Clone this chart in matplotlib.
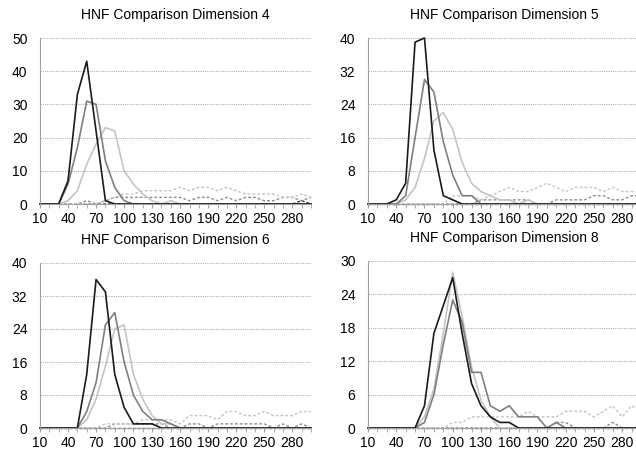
import matplotlib
matplotlib.use("Agg")
import matplotlib.pyplot as plt
import numpy as np

plt.rcParams['font.family'] = ['Liberation Sans', 'DejaVu Sans']

# categories (HNF size buckets)
cats = list(range(10, 310, 10))
tick_labels = [str(c) for c in range(10, 300, 30)]

# Dimension 4
d4_black = [0, 0, 0, 7, 33, 43, 22, 1, 0, 0, 0, 0, 0, 0, 0, 0, 0, 0, 0, 0, 0, 0, 0, 0, 0, 0, 0, 0, 0, 0]
d4_dark = [0, 0, 0, 6, 17, 31, 30, 13, 5, 1, 0, 0, 0, 0, 0, 0, 0, 0, 0, 0, 0, 0, 0, 0, 0, 0, 0, 0, 0, 0]
d4_light = [0, 0, 0, 1, 4, 12, 18, 23, 22, 10, 6, 3, 1, 0, 1, 0, 0, 0, 0, 0, 0, 0, 0, 0, 0, 0, 0, 0, 0, 0]
d4_light_dot = [0, 0, 0, 0, 0, 0, 0, 1, 2, 3, 3, 4, 4, 4, 4, 5, 4, 5, 5, 4, 5, 4, 3, 3, 3, 3, 2, 2, 3, 2]
d4_dark_dot = [0, 0, 0, 0, 0, 1, 0, 1, 2, 2, 2, 2, 2, 2, 2, 2, 1, 2, 2, 1, 2, 1, 2, 2, 1, 1, 2, 2, 1, 2]
d4_black_dot = [0, 0, 0, 0, 0, 0, 0, 0, 0, 0, 0, 0, 0, 0, 0, 0, 0, 0, 0, 0, 0, 0, 0, 0, 0, 0, 0, 0, 1, 0]

# Dimension 5
d5_black = [0, 0, 0, 1, 5, 39, 40, 13, 2, 1, 0, 0, 0, 0, 0, 0, 0, 0, 0, 0, 0, 0, 0, 0, 0, 0, 0, 0, 0, 0]
d5_dark = [0, 0, 0, 0, 2, 16, 30, 27, 15, 7, 2, 2, 0, 0, 0, 0, 0, 0, 0, 0, 0, 0, 0, 0, 0, 0, 0, 0, 0, 0]
d5_light = [0, 0, 0, 0, 1, 4, 11, 20, 22, 18, 10, 5, 3, 2, 1, 1, 0, 1, 0, 0, 0, 0, 0, 0, 0, 0, 0, 0, 0, 0]
d5_light_dot = [0, 0, 0, 0, 0, 0, 0, 0, 0, 2, 2, 2, 1, 2, 3, 4, 3, 3, 4, 5, 4, 3, 4, 4, 4, 3, 4, 3, 3, 3]
d5_dark_dot = [0, 0, 0, 0, 0, 0, 0, 0, 0, 0, 0, 0, 1, 1, 1, 1, 1, 1, 0, 0, 1, 1, 1, 1, 2, 2, 1, 1, 2, 2]
d5_black_dot = [0] * 30

# Dimension 6
d6_black = [0, 0, 0, 0, 0, 13, 36, 33, 13, 5, 1, 1, 1, 0, 0, 0, 0, 0, 0, 0, 0, 0, 0, 0, 0, 0, 0, 0, 0, 0]
d6_dark = [0, 0, 0, 0, 0, 4, 11, 25, 28, 16, 8, 4, 2, 2, 1, 0, 0, 0, 0, 0, 0, 0, 0, 0, 0, 0, 0, 0, 0, 0]
d6_light = [0, 0, 0, 0, 0, 2, 7, 15, 24, 25, 13, 7, 3, 1, 1, 0, 0, 0, 0, 0, 0, 0, 0, 0, 0, 0, 0, 0, 0, 0]
d6_light_dot = [0, 0, 0, 0, 0, 0, 0, 1, 1, 1, 1, 2, 2, 2, 2, 1, 3, 3, 3, 2, 4, 4, 3, 3, 4, 3, 3, 3, 4, 4]
d6_dark_dot = [0, 0, 0, 0, 0, 0, 0, 0, 1, 1, 1, 1, 1, 1, 0, 0, 1, 1, 0, 1, 1, 1, 1, 1, 1, 0, 1, 0, 1, 0]
d6_black_dot = [0] * 30

# Dimension 8
d8_black = [0, 0, 0, 0, 0, 0, 4, 17, 22, 27, 17, 8, 4, 2, 1, 1, 0, 0, 0, 0, 0, 0, 0, 0, 0, 0, 0, 0, 0, 0]
d8_dark = [0, 0, 0, 0, 0, 0, 1, 6, 15, 23, 19, 10, 10, 4, 3, 4, 2, 2, 2, 0, 1, 0, 0, 0, 0, 0, 0, 0, 0, 0]
d8_light = [0, 0, 0, 0, 0, 0, 2, 7, 17, 28, 20, 11, 5, 2, 0, 0, 0, 0, 0, 0, 0, 0, 0, 0, 0, 0, 0, 0, 0, 0]
d8_light_dot = [0, 0, 0, 0, 0, 0, 0, 0, 0, 1, 1, 2, 2, 2, 2, 2, 2, 3, 2, 2, 2, 3, 3, 3, 2, 3, 4, 2, 4, 3]
d8_dark_dot = [0, 0, 0, 0, 0, 0, 0, 0, 0, 0, 0, 0, 0, 0, 0, 0, 0, 0, 0, 0, 1, 1, 0, 0, 0, 0, 1, 0, 0, 0]
d8_black_dot = [0] * 30

panels = [
    ("HNF Comparison Dimension 4", [d4_black, d4_dark, d4_light, d4_light_dot, d4_dark_dot, d4_black_dot], 50, 10),
    ("HNF Comparison Dimension 5", [d5_black, d5_dark, d5_light, d5_light_dot, d5_dark_dot, d5_black_dot], 40, 8),
    ("HNF Comparison Dimension 6", [d6_black, d6_dark, d6_light, d6_light_dot, d6_dark_dot, d6_black_dot], 40, 8),
    ("HNF Comparison Dimension 8", [d8_black, d8_dark, d8_light, d8_light_dot, d8_dark_dot, d8_black_dot], 30, 6),
]

# axes rectangles in pixels: left, top, right, bottom
rects = [(40, 38, 311, 204), (368, 38, 641, 204), (40, 263, 311, 428), (368, 261, 641, 428)]

styles = [
    dict(color='#1a1a1a', lw=1.2, ls='-'),
    dict(color='#7f7f7f', lw=1.2, ls='-'),
    dict(color='#c4c4c4', lw=1.2, ls='-'),
    dict(color='#c4c4c4', lw=1.0, ls=(0, (2, 1.5))),
    dict(color='#8c8c8c', lw=1.0, ls=(0, (2, 1.5))),
    dict(color='#333333', lw=1.0, ls=(0, (2, 1.5))),
]

W, H = 636, 451
fig = plt.figure(figsize=(W / 100, H / 100), dpi=100)

for (title, series, ymax, ystep), (l, t, r, b) in zip(panels, rects):
    ax = fig.add_axes([l / W, 1 - b / H, (r - l) / W, (b - t) / H])
    # draw dotted ones first so solid lines sit on top
    for vals, st in list(zip(series, styles))[::-1]:
        ax.plot(cats, vals, color=st['color'], lw=st['lw'], linestyle=st['ls'], clip_on=False)
    ax.set_xlim(10, 300)
    ax.set_ylim(0, ymax)
    ax.set_yticks(np.arange(0, ymax + 1, ystep))
    ax.set_xticks(range(10, 300, 30))
    ax.set_xticklabels(tick_labels)
    ax.set_xticks(cats, minor=True)
    ax.tick_params(axis='x', which='major', length=3, color='#a0a0a0', pad=2.5, labelsize=10)
    ax.tick_params(axis='x', which='minor', length=3, color='#a0a0a0')
    ax.tick_params(axis='y', length=0, pad=9, labelsize=10)
    for yv in np.arange(ystep, ymax + 1, ystep):
        ax.axhline(yv, color='#b0b0b0', lw=0.8, ls=(0, (1, 1)), zorder=0)
    for s in ['top', 'right']:
        ax.spines[s].set_visible(False)
    ax.spines['left'].set_color('#a0a0a0')
    ax.spines['bottom'].set_color('#a0a0a0')
    ax.set_title(title, fontsize=10, pad=14)

plt.savefig("out.png", dpi=100)
